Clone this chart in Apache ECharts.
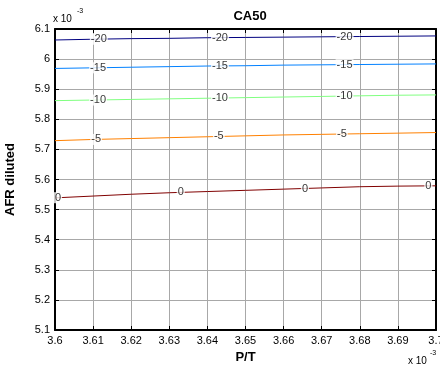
<!DOCTYPE html>
<html><head><meta charset="utf-8">
<script src="https://cdn.jsdelivr.net/npm/echarts@6/dist/echarts.min.js"></script>
<style>html,body{margin:0;padding:0;background:#fff}#c{width:440px;height:367px}</style>
</head><body><div id="c"></div>
<script>
// x values (P/T, x 10^-3)
const xVals = [3.60,3.61,3.62,3.63,3.64,3.65,3.66,3.67,3.68,3.69,3.70];
// contour levels and AFR diluted (x 10^-3) along each contour
const levels = [-20,-15,-10,-5,0];
const line_m20 = [6.0635,6.066,6.068,6.069,6.071,6.072,6.073,6.074,6.075,6.076,6.077];
const line_m15 = [5.969,5.971,5.973,5.975,5.977,5.978,5.980,5.981,5.982,5.983,5.984];
const line_m10 = [5.862,5.864,5.866,5.868,5.870,5.872,5.874,5.876,5.878,5.880,5.881];
const line_m5  = [5.729,5.733,5.736,5.739,5.742,5.745,5.748,5.750,5.752,5.754,5.756];
const line_0   = [5.539,5.545,5.551,5.556,5.560,5.564,5.568,5.572,5.576,5.578,5.579];
// inline contour label positions [x, y]
const lab_m20 = [[3.6115,6.066],[3.6433,6.071],[3.676,6.0745]];
const lab_m15 = [[3.6113,5.971],[3.6433,5.977],[3.676,5.9815]];
const lab_m10 = [[3.6113,5.864],[3.6433,5.870],[3.676,5.877]];
const lab_m5  = [[3.6108,5.733],[3.643,5.743],[3.6753,5.751]];
const lab_0   = [[3.6008,5.5395],[3.633,5.557],[3.6656,5.570],[3.698,5.579]];
const colors = ['#000080','#0080ff','#80ff80','#ff8000','#800000'];
const xTicks = ['3.6','3.61','3.62','3.63','3.64','3.65','3.66','3.67','3.68','3.69','3.7'];

const lines = [line_m20,line_m15,line_m10,line_m5,line_0];
const labs = [lab_m20,lab_m15,lab_m10,lab_m5,lab_0];
const FONT = 'Liberation Sans, Arial, sans-serif';

const series = [];
lines.forEach((ys,i)=>{
  series.push({type:'line',data:xVals.map((x,j)=>[x,ys[j]]),showSymbol:false,
    lineStyle:{color:colors[i],width:1},silent:true,z:2});
});
labs.forEach((pts,i)=>{
  series.push({type:'scatter',data:pts,symbolSize:0,z:5,silent:true,
    label:{show:true,position:'inside',formatter:String(levels[i]),color:'#000',
      fontFamily:FONT,fontSize:11,backgroundColor:'#fff',padding:[0,1,0,1]}});
});

const axisCommon = {
  axisLine:{show:true,onZero:false,lineStyle:{color:'#000',width:2}},
  axisTick:{show:true,inside:true,length:4,lineStyle:{color:'#000'}},
};
const chart = echarts.init(document.getElementById('c'),null,{renderer:'canvas'});
chart.setOption({
  animation:false,
  title:{text:'CA50',left:245,top:5,textAlign:'center',
    textStyle:{fontFamily:FONT,fontSize:13,fontWeight:'bold',color:'#000'}},
  grid:{left:55,right:4,top:29,bottom:37,containLabel:false,outerBoundsMode:'none'},
  xAxis:[
    Object.assign({type:'value',min:3.6,max:3.7,interval:0.01,position:'bottom',
      name:'P/T',nameLocation:'middle',nameGap:19,
      nameTextStyle:{fontFamily:FONT,fontSize:13,fontWeight:'bold',color:'#000'},
      axisLabel:{fontFamily:FONT,fontSize:11,color:'#000',margin:5,
        formatter:(v)=>xTicks[Math.round((v-3.6)/0.01)]},
      splitLine:{show:true,lineStyle:{color:'#a8a8a8',width:1}}},axisCommon),
    Object.assign({type:'value',min:3.6,max:3.7,interval:0.01,position:'top',
      axisLabel:{show:false},splitLine:{show:false}},axisCommon)
  ],
  yAxis:[
    Object.assign({type:'value',min:5.1,max:6.1,interval:0.1,position:'left',
      name:'AFR diluted',nameLocation:'middle',nameGap:38,
      nameTextStyle:{fontFamily:FONT,fontSize:13,fontWeight:'bold',color:'#000'},
      axisLabel:{fontFamily:FONT,fontSize:11,color:'#000',margin:5,
        formatter:(v)=>String(Math.round(v*10)/10)},
      splitLine:{show:true,lineStyle:{color:'#a8a8a8',width:1}}},axisCommon),
    Object.assign({type:'value',min:5.1,max:6.1,interval:0.1,position:'right',
      axisLabel:{show:false},splitLine:{show:false}},axisCommon)
  ],
  graphic:[
    {type:'text',left:53,top:14,style:{text:'x 10',font:'10px '+FONT,fill:'#000'}},
    {type:'text',left:77,top:8,style:{text:'-3',font:'7px '+FONT,fill:'#000'}},
    {type:'text',left:408,top:356,style:{text:'x 10',font:'10px '+FONT,fill:'#000'}},
    {type:'text',left:430,top:350,style:{text:'-3',font:'7px '+FONT,fill:'#000'}}
  ],
  series:series
});
</script></body></html>
